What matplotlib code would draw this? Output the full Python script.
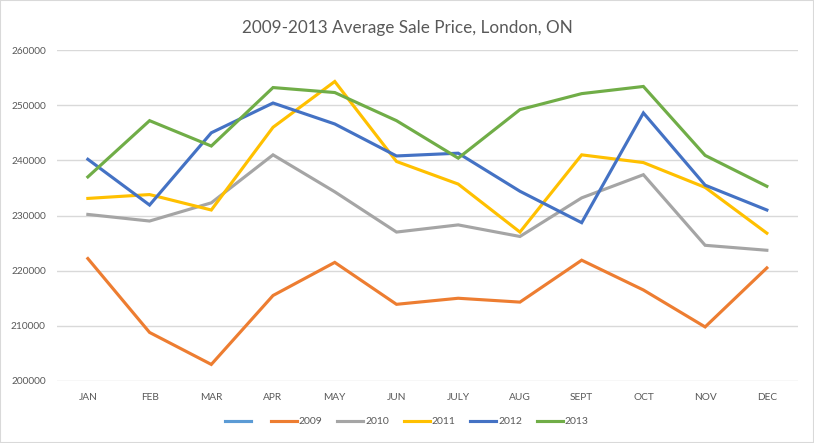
import matplotlib.pyplot as plt
from matplotlib.lines import Line2D
from matplotlib.patches import Rectangle

months = ["JAN", "FEB", "MAR", "APR", "MAY", "JUN", "JULY", "AUG", "SEPT", "OCT", "NOV", "DEC"]
y2009 = [222200, 208800, 203000, 215500, 221500, 213900, 215000, 214300, 221900, 216500, 209800, 220500]
y2010 = [230200, 229000, 232300, 241000, 234300, 227000, 228300, 226200, 233200, 237400, 224600, 223700]
y2011 = [233100, 233800, 231000, 246000, 254300, 239800, 235700, 227000, 241000, 239600, 235100, 226800]
y2012 = [240200, 231900, 245000, 250400, 246600, 240800, 241300, 234400, 228700, 248600, 235500, 231000]
y2013 = [237000, 247200, 242600, 253200, 252300, 247200, 240400, 249200, 252100, 253400, 240900, 235300]

series = [("2009", y2009, "#ED7D31"), ("2010", y2010, "#A5A5A5"),
          ("2011", y2011, "#FFC000"), ("2012", y2012, "#4472C4"),
          ("2013", y2013, "#70AD47")]

plt.rcParams['font.family'] = ['Lato', 'DejaVu Sans']
txt = "#595959"

fig = plt.figure(figsize=(8.14, 4.43), dpi=100)
ax = fig.add_axes([0.070, 0.140, 0.910, 0.747])

x = range(len(months))
for name, vals, col in series:
    ax.plot(x, vals, color=col, lw=2.25, label=name, solid_joinstyle='miter')

ax.set_xlim(-0.5, 11.5)
ax.set_ylim(200000, 260000)
ax.set_yticks(range(200000, 260001, 10000))
ax.set_xticks(list(x))
ax.set_xticklabels(months)
ax.grid(axis='y', color='#D9D9D9', lw=1)
ax.set_axisbelow(True)
for s in ax.spines.values():
    s.set_visible(False)
ax.tick_params(length=0, labelsize=7.3, labelcolor=txt, pad=9)
ax.tick_params(axis='y', pad=8)

fig.suptitle("2009-2013 Average Sale Price, London, ON", y=0.955, fontsize=12.3, color=txt)

handles = [Line2D([], [], color="#5B9BD5", lw=2.25)]
labels = [" "]
for name, vals, col in series:
    handles.append(Line2D([], [], color=col, lw=2.25))
    labels.append(name)
fig.legend(handles, labels, loc='center', bbox_to_anchor=(0.5, 0.048), ncol=6,
           frameon=False, fontsize=7.5, labelcolor=txt, handlelength=2.5,
           handletextpad=0.2, columnspacing=1.4)

fig.patches.append(Rectangle((0, 0), 1, 1, transform=fig.transFigure,
                             fill=False, edgecolor='#D9D9D9', lw=1.5))

fig.savefig("out.png", dpi=100)
